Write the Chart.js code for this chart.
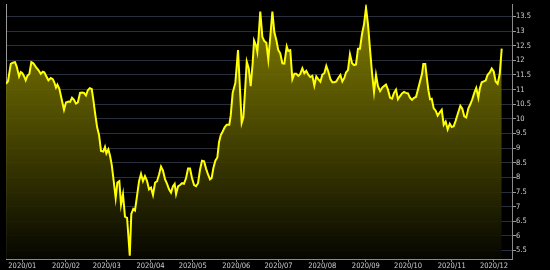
<!DOCTYPE html>
<html>
<head>
<meta charset="utf-8">
<script src="https://cdn.jsdelivr.net/npm/chart.js@4.4.1/dist/chart.umd.min.js"></script>
<style>
  html, body { margin: 0; padding: 0; background: #000; }
  #chart { display: block; }
</style>
</head>
<body>
<canvas id="chart" width="550" height="270"></canvas>
<script>
// days counted from 2020-01-01 (negative = late Dec 2019)
const dayOffsets = [
  -11.6, -10.2, -8.2, -6.8, -5.2, -4.0, -2.3, -1.1, 0, 1.2, 2.4, 3.6, 5.0, 6.4, 7.8, 9.7, 11.4, 13.1, 14.5, 15.6,
  17.3, 18.5, 20.2, 21.6, 22.7, 23.9, 24.9, 26.3, 27.7, 29.6, 31.0, 32.7, 33.9, 35.3, 36.7, 38.1, 39.4, 41.0, 42.4, 43.8,
  45.2, 46.5, 47.9, 49.3, 50.4, 51.6, 53.1, 54.5, 55.9, 57.5, 58.7, 59.7, 61.1, 62.3, 63.5, 64.9, 66.3, 67.5, 68.9, 70.1,
  71.5, 72.9, 74.4, 76.3, 77.4, 78.8, 80.0, 81.3, 82.9, 84.3, 85.7, 87.1, 88.6, 90.0, 91.4, 92.8, 94.3, 95.7, 97.1, 98.5,
  99.9, 101.4, 102.8, 104.2, 105.6, 107.0, 108.2, 109.2, 110.6, 112.0, 113.4, 114.8, 116.3, 117.7, 119.1, 120.5, 122.0, 123.4, 124.8, 126.2,
  127.6, 129.1, 130.5, 131.9, 133.3, 134.5, 135.7, 137.1, 138.5, 139.7, 140.9, 142.3, 143.8, 145.2, 147.0, 148.0, 149.4, 151.3, 153.2, 154.6,
  155.8, 157.0, 158.4, 159.4, 160.8, 162.2, 163.6, 164.6, 166.0, 166.9, 167.8, 169.0, 170.5, 171.9, 173.3, 174.7, 176.1, 177.6, 179.0, 180.4,
  181.8, 183.2, 184.7, 186.1, 187.8, 188.9, 190.3, 191.8, 193.2, 194.6, 196.0, 197.4, 198.9, 200.3, 201.7, 203.1, 204.5, 206.0, 207.4, 208.8,
  210.2, 211.7, 213.1, 214.5, 215.9, 217.3, 218.8, 220.2, 221.6, 223.0, 224.4, 225.9, 227.3, 228.7, 229.9, 231.3, 232.7, 234.2, 235.6, 237.0,
  238.4, 239.8, 241.3, 242.7, 244.1, 245.5, 247.0, 248.4, 249.8, 251.2, 252.6, 254.1, 255.5, 256.9, 258.3, 259.7, 261.2, 262.6, 264.0, 265.4,
  266.8, 268.3, 269.7, 271.1, 272.5, 273.9, 275.4, 276.8, 278.2, 279.6, 281.0, 282.5, 283.9, 284.8, 286.2, 287.2, 288.4, 289.6, 290.8, 292.2,
  293.6, 295.0, 296.5, 297.9, 299.3, 300.7, 302.1, 303.6, 305.0, 306.4, 307.8, 309.2, 311.1, 312.5, 313.9, 315.3, 316.8, 318.2, 319.6, 321.0,
  322.4, 323.9, 324.9, 326.3, 327.7, 329.1, 330.5, 332.0, 333.4, 334.8, 336.2, 337.6, 339.1, 340.5
];
const prices = [
  11.2, 11.28, 11.88, 11.92, 11.94, 11.79, 11.45, 11.6, 11.56, 11.46, 11.32, 11.47, 11.54, 11.94, 11.9, 11.77, 11.67, 11.54, 11.61, 11.59,
  11.43, 11.32, 11.4, 11.36, 11.25, 11.07, 11.17, 11.03, 10.72, 10.31, 10.56, 10.59, 10.58, 10.72, 10.65, 10.52, 10.56, 10.89, 10.9, 10.89,
  10.8, 10.98, 11.05, 11.02, 10.67, 10.22, 9.72, 9.44, 8.9, 8.88, 9.04, 8.82, 8.96, 8.74, 8.43, 7.87, 7.29, 7.82, 7.87, 7.07,
  7.43, 6.66, 6.62, 5.32, 6.75, 6.92, 6.87, 7.31, 7.87, 8.12, 7.87, 8.04, 7.87, 7.59, 7.65, 7.4, 7.82, 7.87, 8.1, 8.37,
  8.23, 7.93, 7.78, 7.59, 7.48, 7.7, 7.78, 7.43, 7.69, 7.74, 7.8, 7.78, 7.98, 8.3, 8.3, 7.98, 7.74, 7.7, 7.8, 8.26,
  8.57, 8.55, 8.3, 8.1, 7.93, 7.98, 8.32, 8.57, 8.68, 9.2, 9.44, 9.57, 9.72, 9.8, 9.8, 10.11, 10.89, 11.23, 12.35, 11.0,
  9.86, 10.05, 11.12, 11.96, 11.73, 11.12, 11.9, 12.68, 12.51, 12.29, 12.8, 13.67, 12.8, 12.66, 12.6, 12.03, 12.8, 13.67, 12.96, 12.7,
  12.35, 12.24, 11.9, 11.89, 12.48, 12.32, 12.35, 11.36, 11.54, 11.54, 11.47, 11.54, 11.73, 11.56, 11.64, 11.51, 11.43, 11.47, 11.14, 11.45,
  11.36, 11.27, 11.51, 11.56, 11.81, 11.62, 11.36, 11.25, 11.25, 11.28, 11.4, 11.5, 11.28, 11.4, 11.59, 11.67, 12.21, 11.9, 11.84, 11.86,
  12.4, 12.4, 12.91, 13.24, 13.8, 13.24, 12.35, 11.56, 10.92, 11.51, 11.12, 10.95, 11.06, 11.12, 11.17, 11.0, 10.72, 10.69, 10.89, 11.0,
  10.67, 10.78, 10.87, 10.92, 10.89, 10.87, 10.72, 10.65, 10.72, 10.75, 11.0, 11.29, 11.54, 11.88, 11.88, 11.45, 10.98, 10.67, 10.69, 10.36,
  10.28, 10.11, 10.22, 10.31, 9.8, 9.91, 9.64, 9.83, 9.72, 9.75, 9.94, 10.16, 10.45, 10.35, 10.09, 10.05, 10.36, 10.5, 10.67, 10.89,
  11.06, 10.72, 11.03, 11.25, 11.28, 11.31, 11.51, 11.59, 11.72, 11.62, 11.28, 11.2, 11.54, 12.4
];

const monthStarts = [0, 31, 60, 91, 121, 152, 182, 213, 244, 274, 305, 335];
const monthLabels = ['2020/01', '2020/02', '2020/03', '2020/04', '2020/05', '2020/06',
                     '2020/07', '2020/08', '2020/09', '2020/10', '2020/11', '2020/12'];
const yTicks = [5.5, 6, 6.5, 7, 7.5, 8, 8.5, 9, 9.5, 10, 10.5, 11, 11.5, 12, 12.5, 13, 13.5];

const tickFont = { family: "'Liberation Sans Narrow', 'DejaVu Sans Condensed', sans-serif", size: 7.5 };

function fillGradient(context) {
    const chart = context.chart;
    const area = chart.chartArea;
    if (!area) return 'rgba(110,108,0,0.8)';
    const g = chart.ctx.createLinearGradient(0, area.top, 0, area.bottom);
    g.addColorStop(0, 'rgba(140,136,0,0.92)');
    g.addColorStop(0.5, 'rgba(78,76,0,0.92)');
    g.addColorStop(1, 'rgba(6,6,0,0.92)');
    return g;
}

const points = dayOffsets.map((d, i) => ({ x: d, y: prices[i] }));

new Chart(document.getElementById('chart'), {
    type: 'line',
    data: {
        datasets: [{
            data: points,
            borderColor: '#ffff00',
            borderWidth: 2,
            pointRadius: 0,
            tension: 0,
            fill: 'start',
            backgroundColor: fillGradient
        }]
    },
    options: {
        responsive: false,
        animation: false,
        devicePixelRatio: 1,
        layout: { padding: 0 },
        plugins: { legend: { display: false }, tooltip: { enabled: false } },
        scales: {
            x: {
                type: 'linear',
                position: 'bottom',
                min: -11.6,
                max: 347.8,
                z: 1,
                grid: { display: true, drawOnChartArea: false, drawTicks: true, tickLength: 3, color: '#8a8a8a' },
                border: { display: true, color: '#8a8a8a', width: 1 },
                afterBuildTicks: scale => { scale.ticks = monthStarts.map(v => ({ value: v })); },
                afterFit: scale => { scale.height = 11; },
                ticks: {
                    autoSkip: false,
                    maxRotation: 0,
                    minRotation: 0,
                    padding: 0,
                    color: '#cfcfcf',
                    font: tickFont,
                    callback: (value, index) => monthLabels[index]
                }
            },
            y: {
                position: 'right',
                min: 5.21,
                max: 13.91,
                z: 1,
                grid: { color: 'rgba(100,112,145,0.42)', tickColor: '#9a9a9a', tickLength: 4, drawTicks: true },
                border: { display: true, color: '#8a8a8a', width: 1 },
                afterBuildTicks: scale => { scale.ticks = yTicks.map(v => ({ value: v })); },
                afterFit: scale => { scale.width = 38; },
                ticks: {
                    padding: 0,
                    color: '#cfcfcf',
                    font: tickFont,
                    callback: value => String(value)
                }
            },
            yLeft: {
                position: 'left',
                min: 0,
                max: 1,
                grid: { display: false },
                border: { display: true, color: '#9a9a9a', width: 1 },
                ticks: { display: false },
                afterFit: scale => { scale.width = 6; }
            }
        }
    }
});
</script>
</body>
</html>
